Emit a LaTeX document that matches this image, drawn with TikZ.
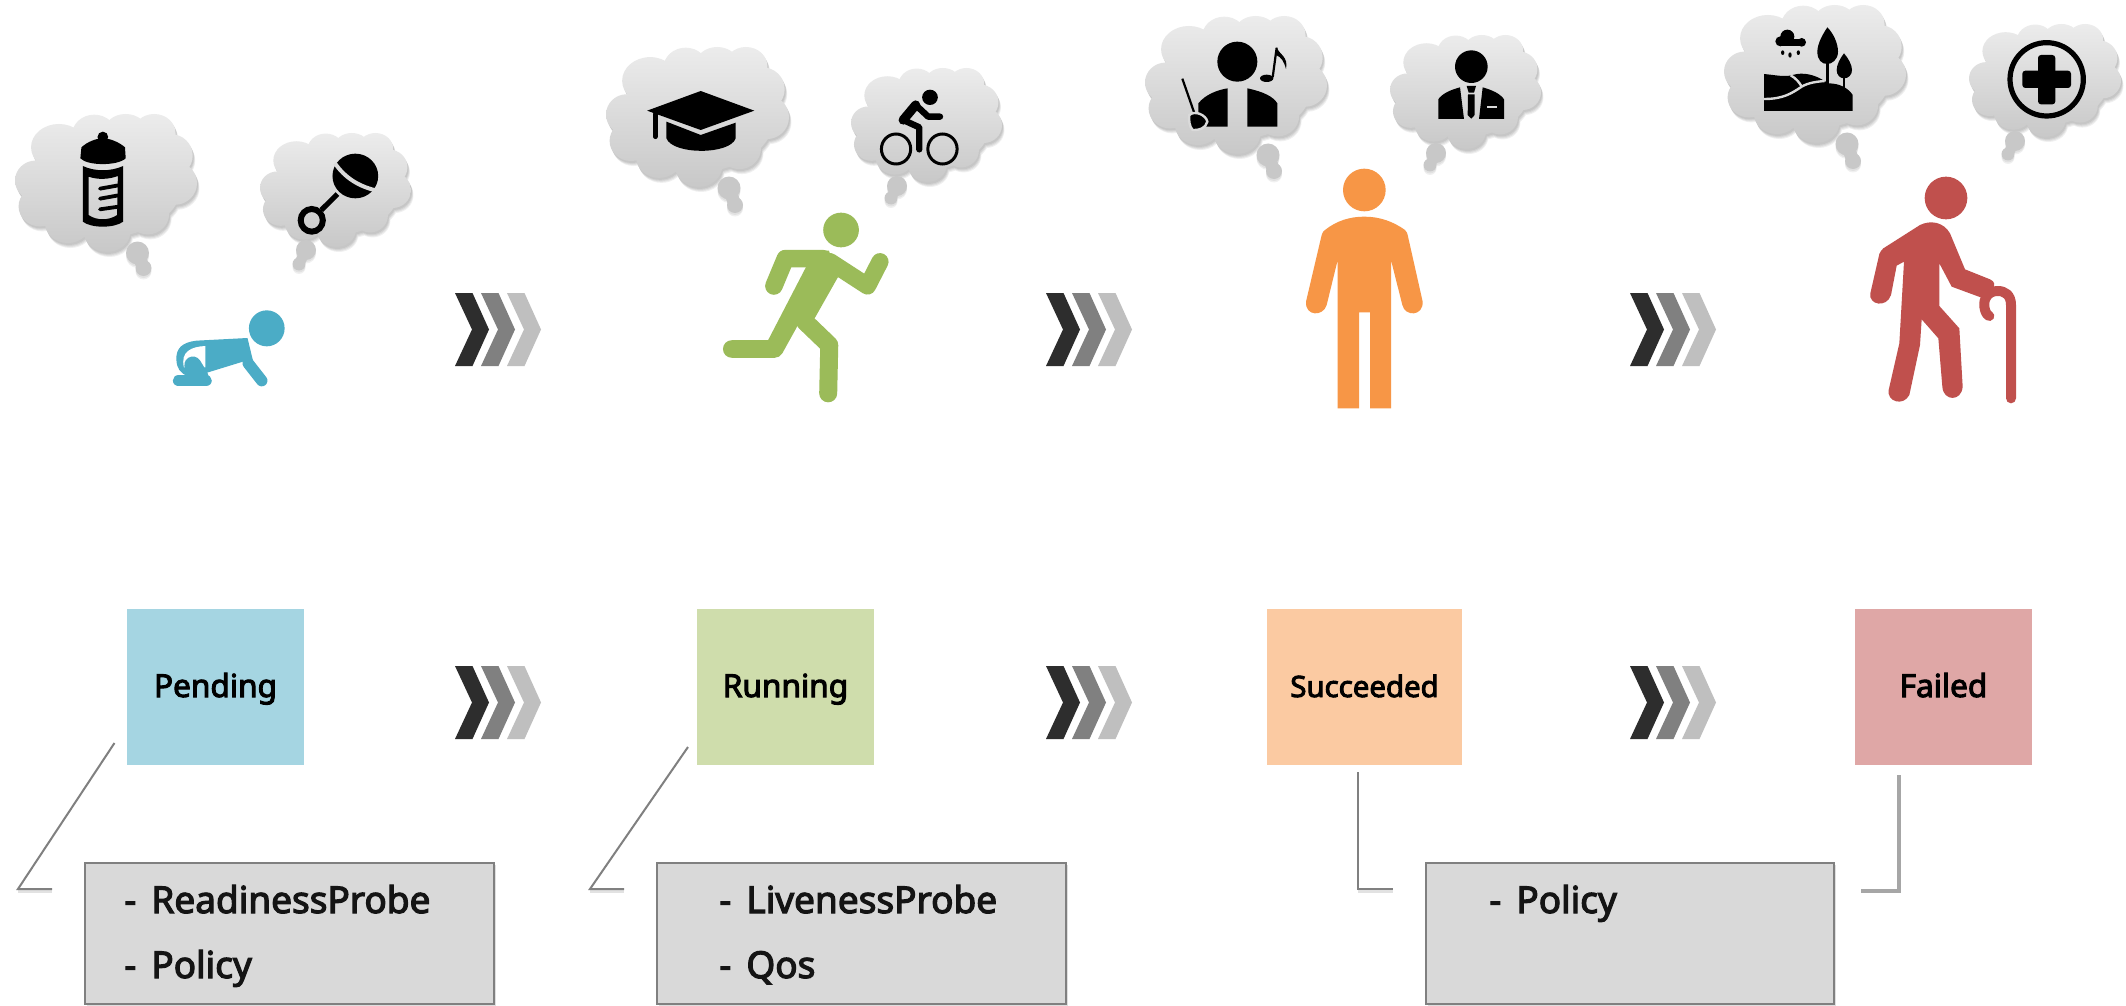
\documentclass[tikz,border=0pt]{standalone}
\usepackage{fontspec}
\setmainfont{Noto Sans}
\newfontfamily\labelfont[FakeBold=3.2]{Noto Sans}
\usetikzlibrary{shadows}
\definecolor{cTop}{HTML}{ECECEC}
\definecolor{cBot}{HTML}{C8C8C8}
\definecolor{cMid}{HTML}{DADADA}
\definecolor{tailgray}{HTML}{C8C8C8}
\definecolor{blueI}{HTML}{4BACC6}
\definecolor{greenI}{HTML}{9BBB59}
\definecolor{orangeI}{HTML}{F79646}
\definecolor{redI}{HTML}{C0504D}
\definecolor{blueB}{HTML}{A5D5E2}
\definecolor{greenB}{HTML}{CFDDAC}
\definecolor{orangeB}{HTML}{FBCAA2}
\definecolor{redB}{HTML}{DFA7A6}
\tikzset{
  statebox/.style={inner sep=0pt,minimum height=78pt,font=\labelfont\fontsize{15.8}{18}\selectfont,text height=11pt,text depth=1pt},
  notebox/.style={draw=black!50,line width=1pt,fill=black!15,inner sep=0pt,drop shadow={opacity=.25,shadow xshift=.8pt,shadow yshift=-1pt}},
  notetext/.style={anchor=base west,inner sep=0pt,font=\labelfont\fontsize{18.5}{22}\selectfont,text=black!92},
  calloutline/.style={draw=black!50,line width=1pt,line join=miter},
  calloutshadow/.style={draw=black!25,line width=1.4pt,opacity=.45},
  iconline/.style={draw=black,line cap=round,line join=round},
  limb/.style={line cap=round,line join=round},
}
\newcommand\lumps{%
  (58,200) circle [x radius=58,y radius=60]
  (123,100) circle [x radius=78,y radius=70]
  (222,62) circle [x radius=62,y radius=60]
  (310,52) circle [x radius=60,y radius=52]
  (390,58) circle [x radius=60,y radius=58]
  (435,125) circle [x radius=63,y radius=65]
  (448,208) circle [x radius=62,y radius=65]
  (372,300) circle [x radius=60,y radius=62]
  (258,352) circle [x radius=66,y radius=63]
  (148,328) circle [x radius=64,y radius=60]
  (70,278) circle [x radius=60,y radius=60]
  (255,205) circle [x radius=215,y radius=165]
}
% x y w h of the cloud
\newcommand\thought[4]{%
  \foreach \oa/\ob in {1/2,1.5/3,2/4,2.5/5}{%
    \begin{scope}[shift={(#1+\oa,#2+\ob)},xscale=#3/510,yscale=#4/415]
      \fill[black,opacity=.06] \lumps;
    \end{scope}}%
  \begin{scope}[shift={(#1,#2)},xscale=#3/510,yscale=#4/415]
    \shade[top color=cTop,bottom color=cBot] \lumps;
  \end{scope}
}
% the two tail blobs: x y r, x y r
\newcommand\tailb[6]{%
  \foreach \ob in {2,3.5}{\fill[black,opacity=.06] (#1,#2+\ob) circle [radius=#3] (#4,#5+\ob) circle [radius=#6];}%
  \draw[tailgray,line width=#6*0.8pt] (#1,#2) -- (#4,#5);
  \fill[tailgray] (#1,#2) circle [radius=#3] (#4,#5) circle [radius=#6];}
\newcommand\chevrons[2]{%
  \foreach \dx/\cc in {0/2D2D2D,26/808080,52/BFBFBF}{%
    \definecolor{chevc}{HTML}{\cc}%
    \fill[chevc] (#1+\dx,#2) -- ++(17.5,0) -- ++(16.5,36.5) -- ++(-16.5,36.5) -- ++(-17.5,0) -- ++(17,-36.5) -- cycle;}%
}
\begin{document}
\begin{tikzpicture}[x=0.5pt,y=-0.5pt]
\useasboundingbox (0,0) rectangle (2126,1006);
\fill[white] (0,0) rectangle (2126,1006);

% ---------- thought clouds
\thought{15}{114}{182}{138}
\tailb{137.5}{253}{11.5}{143.5}{268}{8}
\thought{260}{133}{151}{114}
\tailb{306}{250}{10}{299}{264}{6.5}
\thought{606}{47}{183}{140}
\tailb{729}{188}{11.5}{735}{205}{8}
\thought{851}{68}{151}{114}
\tailb{897}{186}{10}{891}{198}{6.5}
\thought{1145}{16}{182}{138}
\tailb{1268}{155}{11.5}{1274}{171}{8}
\thought{1390}{35}{151}{114}
\tailb{1436}{153}{10}{1430}{165}{6.5}
\thought{1724}{5}{182}{138}
\tailb{1847}{144}{11.5}{1853}{161}{8}
\thought{1969}{24}{152}{113}
\tailb{2015}{141}{10}{2008}{154}{6.5}

% ---------- icons traced in zoom coordinates
\begin{scope}[shift={(0,90)},xscale=1/2.8,yscale=1/3]
  % bottle
  \fill (288,141) circle [x radius=15,y radius=16];
  \fill (228,172) .. controls (245,155) and (270,145) .. (288,145) .. controls (310,145) and (335,158) .. (350,172) -- (352,205) .. controls (330,228) and (245,228) .. (225,205) -- cycle;
  \fill[even odd rule] (232,228) .. controls (265,245) and (310,245) .. (345,228) -- (345,395) .. controls (320,415) and (255,415) .. (232,395) -- cycle
    (248,260) .. controls (275,270) and (305,268) .. (330,258) -- (328,375) .. controls (305,392) and (270,392) .. (248,375) -- cycle;
  \draw[iconline,line width=1.9pt] (280,296) -- (332,286) (280,326) -- (332,316) (280,358) -- (332,350);
  % rattle
  \fill (995,258) circle [x radius=64,y radius=67];
  \draw[cMid,line width=2pt] (938,220) .. controls (965,262) and (1005,292) .. (1065,304);
  \draw[black,line width=2.6pt] (945,312) -- (900,360);
  \draw[black,line width=3pt] (873,391) circle [x radius=31,y radius=34];
  % baby
  \fill[blueI] (747,715) circle [x radius=50,y radius=54];
  \fill[blueI] (693,744) -- (550,752) .. controls (510,757) and (492,775) .. (494,810) .. controls (495,835) and (505,850) .. (525,858) -- (580,848) -- (680,815) -- (712,828) -- cycle;
  \fill[white] (575,768) .. controls (535,770) and (505,785) .. (515,832) -- (575,832) -- cycle;
  \draw[blueI,line width=8.5pt,limb] (540,825) -- (560,860);
  \draw[blueI,line width=5.7pt,limb] (500,872) -- (577,872);
  \draw[blueI,line width=5.7pt,limb] (695,820) -- (733,872);
\end{scope}

% cap, cyclist, runner
\begin{scope}[shift={(580,40)},xscale=1/2.8,yscale=1/3]
  \fill (188,212) -- (338,153) -- (488,212) -- (338,270) -- cycle;
  \draw[iconline,line width=2.4pt] (211,222) -- (211,290);
  \fill (242,245) -- (338,285) -- (436,248) -- (436,295) .. controls (420,345) and (260,345) .. (242,295) -- cycle;
  \fill (980,172) circle [x radius=22,y radius=23];
  \draw[iconline,line width=3.2pt] (940,195) -- (975,230) -- (1008,230);
  \draw[iconline,line width=4.6pt] (940,195) -- (905,240);
  \draw[iconline,line width=3.2pt] (905,240) -- (950,262) -- (950,328);
  \draw[black,line width=1.5pt] (885,327) circle [x radius=41,y radius=45] (1015,327) circle [x radius=41,y radius=45];
  \fill[greenI] (731,570) circle [x radius=50,y radius=52];
  \draw[greenI,line width=8.6pt,limb] (840,665) -- (805,738) -- (700,665);
  \draw[greenI,line width=8.8pt,limb] (680,656) -- (575,656) -- (543,738);
  \fill[greenI] (632,683) -- (640,632) -- (697,632) -- (722,712) -- (657,835) -- (605,855) -- (560,940) -- (527,900) -- cycle;
  \draw[greenI,line width=8.8pt,limb] (425,927) -- (545,927) -- (590,840);
  \draw[greenI,line width=9pt,limb] (630,845) -- (698,915) -- (695,1060);
\end{scope}

% conductor, businessman, standing person
\begin{scope}[shift={(1130,0)},xscale=1/3,yscale=1/3]
  \fill (322,185) circle [radius=60];
  \fill (293,265) -- (293,380) -- (205,380) -- (205,310) .. controls (225,285) and (260,270) .. (293,265) -- cycle;
  \fill (352,265) .. controls (400,275) and (430,290) .. (442,310) -- (442,380) -- (352,380) -- cycle;
  \draw[black,line width=1.1pt] (157,236) -- (195,345);
  \fill[draw=cMid,line width=1.2pt] (178,345) .. controls (195,330) and (228,345) .. (232,365) .. controls (228,385) and (205,392) .. (188,390) .. controls (178,380) and (176,360) .. (178,345) -- cycle;
  \fill (410,235) ellipse [x radius=20,y radius=11];
  \draw[black,line width=1.1pt] (428,232) -- (440,143);
  \fill (440,143) .. controls (450,165) and (475,170) .. (468,207) .. controls (462,185) and (455,172) .. (438,165) -- cycle;
  \fill (1024,200) circle [radius=49];
  \fill (925,357) -- (925,298) .. controls (935,282) and (960,270) .. (990,262) -- (1002,357) -- cycle;
  \fill (1058,262) .. controls (1085,270) and (1110,280) .. (1122,298) -- (1122,357) -- (1047,357) -- cycle;
  \fill (1010,258) -- (1038,258) -- (1032,278) -- (1016,278) -- cycle;
  \fill (1014,283) -- (1034,283) -- (1034,345) -- (1024,356) -- (1013,345) -- cycle;
  \fill[cMid] (1070,317) rectangle (1100,323);
  \fill[orangeI] (703,570) circle [radius=64];
  \fill[orangeI] (623,1225) -- (623,780) -- (590,915) .. controls (580,950) and (525,950) .. (528,905) -- (575,705) .. controls (578,695) and (580,695) .. (585,690) .. controls (620,662) and (660,650) .. (703,650) .. controls (750,650) and (790,665) .. (825,690) .. controls (830,695) and (832,700) .. (833,705) -- (878,905) .. controls (880,950) and (825,950) .. (817,915) -- (783,780) -- (783,1225) -- (720,1225) -- (720,937) -- (687,937) -- (687,1225) -- cycle;
\end{scope}

% landscape, plus, old man
\begin{scope}[shift={(1700,0)},xscale=1/3,yscale=1/3]
  \fill (262,110) circle [radius=21] (241,124) circle [radius=15] (305,127) circle [radius=13];
  \fill (241,118) rectangle (305,139);
  \fill (248,158) ellipse [x radius=5,y radius=7] (270,165) ellipse [x radius=5,y radius=8] (295,158) ellipse [x radius=5,y radius=7];
  \fill (382,82) .. controls (400,100) and (414,130) .. (414,155) .. controls (414,180) and (395,192) .. (382,192) .. controls (365,192) and (352,180) .. (352,155) .. controls (352,130) and (370,100) .. (382,82) -- cycle;
  \draw[black,line width=1.5pt] (382,190) -- (382,255);
  \fill (432,160) .. controls (445,175) and (456,195) .. (456,210) .. controls (456,225) and (445,235) .. (432,235) .. controls (420,235) and (410,225) .. (410,210) .. controls (410,195) and (420,175) .. (432,160) -- cycle;
  \draw[black,line width=1.3pt] (432,232) -- (432,268);
  \fill (192,222) .. controls (225,225) and (255,232) .. (278,225) .. controls (310,215) and (345,225) .. (372,242) -- (385,250) .. controls (420,250) and (445,265) .. (458,285) -- (458,333) -- (192,333) -- cycle;
  \draw[cMid,line width=1.2pt] (192,297) .. controls (250,297) and (275,280) .. (305,260) .. controls (325,248) and (350,245) .. (374,243);
  \draw[cMid,line width=1.2pt] (272,226) .. controls (288,235) and (298,247) .. (305,260);
  \draw[black,line width=2.6pt] (1040,238) circle [radius=110];
  \fill[rounded corners=1.5pt] (1014,165) rectangle (1066,313);
  \fill[rounded corners=1.5pt] (967,212) rectangle (1113,264);
  % old man
  \fill[redI] (738,594) circle [radius=64];
  \fill[redI] (660,675) .. controls (690,660) and (730,665) .. (750,700) -- (795,808) -- (870,838) .. controls (885,845) and (885,855) .. (880,865) -- (850,895) -- (755,860) -- (718,790) -- (718,918) -- (778,985) -- (788,1160) .. controls (785,1205) and (730,1205) .. (727,1160) -- (715,1015) -- (665,958) -- (660,1035) -- (628,1185) .. controls (610,1220) and (560,1205) .. (566,1170) -- (598,1030) -- (612,785) -- (590,797) -- (573,885) .. controls (560,925) and (505,915) .. (511,880) -- (538,762) .. controls (540,755) and (545,750) .. (550,745) -- cycle;
  \draw[redI,line width=5pt,limb] (933,1195) -- (933,915) .. controls (933,885) and (915,873) .. (893,873) .. controls (865,873) and (850,895) .. (853,920) .. controls (855,935) and (860,945) .. (868,948);
\end{scope}

% ---------- chevrons
\chevrons{455}{293}\chevrons{1046}{293}\chevrons{1630}{293}
\chevrons{455}{666}\chevrons{1046}{666}\chevrons{1630}{666}

% ---------- state boxes
\node[statebox,fill=blueB,minimum width=88.5pt] (pending) at (215.5,687) {Pending};
\node[statebox,fill=greenB,minimum width=88.5pt] (running) at (785.5,687) {Running};
\node[statebox,fill=orangeB,minimum width=97.5pt,font=\labelfont\fontsize{14.7}{18}\selectfont] (succeeded) at (1364.5,687) {Succeeded};
\node[statebox,fill=redB,minimum width=88.5pt] (failed) at (1943.5,687) {Failed};

% ---------- note boxes
\node[notebox,minimum width=204.5pt,minimum height=70.5pt] (noteA) at (289.5,933.5) {};
\node[notebox,minimum width=204.5pt,minimum height=70.5pt] (noteB) at (861.5,933.5) {};
\node[notebox,minimum width=204pt,minimum height=70.5pt] (noteC) at (1630,933.5) {};
\node[notetext] (ta) at (124,913) {\makebox[13.5pt][l]{-}ReadinessProbe};
\node[notetext] (tb) at (124,978) {\makebox[13.5pt][l]{-}Policy};
\node[notetext] (tc) at (719,913) {\makebox[13.5pt][l]{-}LivenessProbe};
\node[notetext] (td) at (719,978) {\makebox[13.5pt][l]{-}Qos};
\node[notetext] (te) at (1489,913) {\makebox[13.5pt][l]{-}Policy};

% ---------- callout lines
\coordinate (a1) at (114.5,743); \coordinate (a2) at (18,889); \coordinate (a3) at (52,889);
\coordinate (b1) at (688,747);   \coordinate (b2) at (590,889); \coordinate (b3) at (624,889);
\coordinate (c1) at (1357.5,772);\coordinate (c2) at (1357.5,889); \coordinate (c3) at (1392.5,889);
\coordinate (d1) at (1899,775);  \coordinate (d2) at (1899,890.5); \coordinate (d3) at (1861,890.5);
\draw[calloutshadow] ([yshift=-1.4pt]a2) -- ([yshift=-1.4pt]a3);
\draw[calloutshadow] ([yshift=-1.4pt]b2) -- ([yshift=-1.4pt]b3);
\draw[calloutshadow] ([yshift=-1.4pt]c2) -- ([yshift=-1.4pt]c3);
\draw[calloutline] (a1) -- (a2) -- (a3);
\draw[calloutline] (b1) -- (b2) -- (b3);
\draw[calloutline] (c1) -- (c2) -- (c3);
\draw[draw=black!35,line width=2pt] (d1) -- (d2) -- (d3);
\end{tikzpicture}
\end{document}
